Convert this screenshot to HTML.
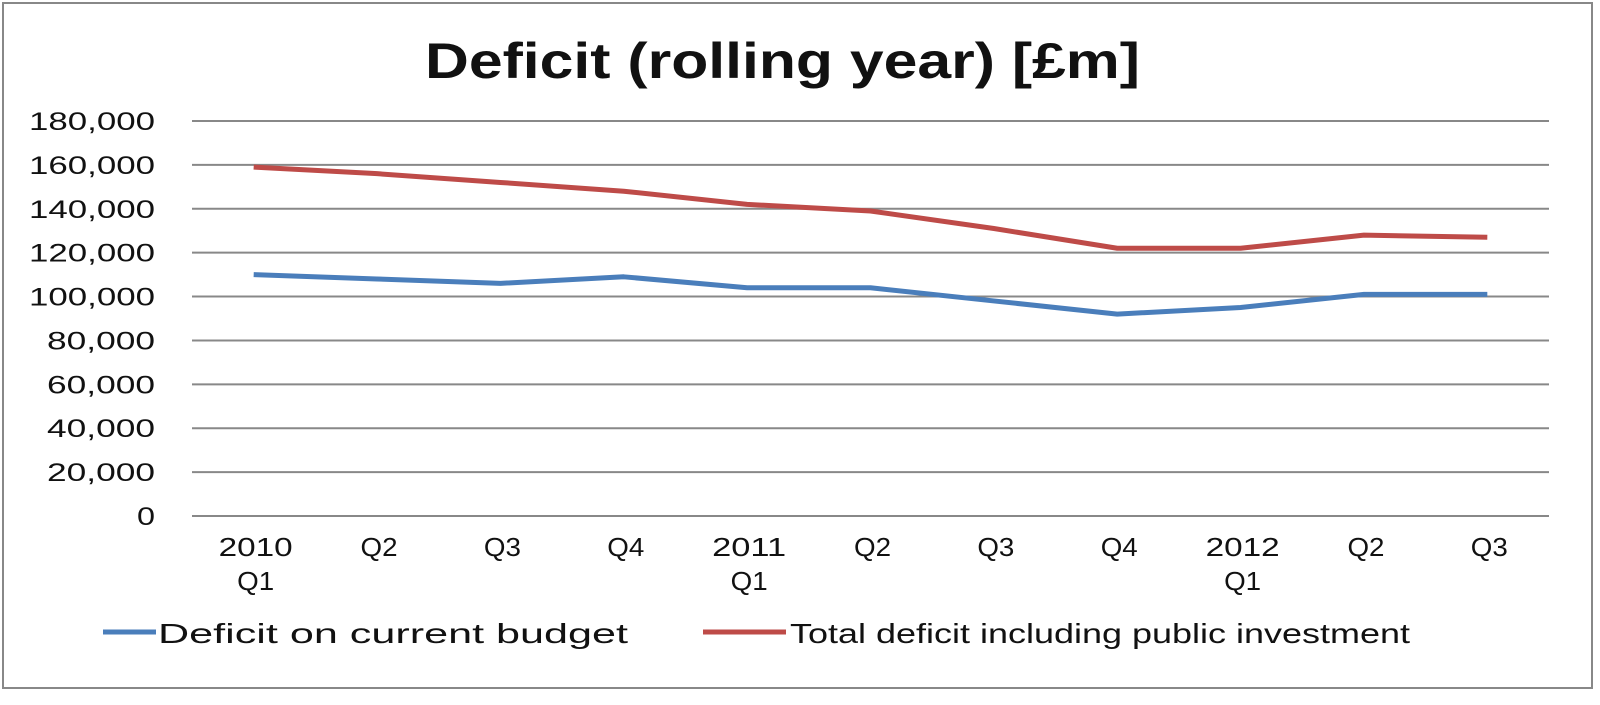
<!DOCTYPE html>
<html><head><meta charset="utf-8"><style>
body{margin:0;background:#fff;}
svg text{font-family:"Liberation Sans",sans-serif;fill:#111;}
</style></head><body>
<svg width="1600" height="700" xmlns="http://www.w3.org/2000/svg">
<rect x="3" y="3" width="1589" height="685" fill="#fff" stroke="#888" stroke-width="2"/>
<text x="425" y="78" font-size="50" font-weight="bold" textLength="715" lengthAdjust="spacingAndGlyphs">Deficit (rolling year) [£m]</text>
<g id="grid"></g><g id="ylab"></g><g id="xlab"></g><g id="series"></g>
<g>
<line x1="103" y1="632" x2="156" y2="632" stroke="#4a7ebb" stroke-width="5"/>
<text x="158" y="643" font-size="28" textLength="470" lengthAdjust="spacingAndGlyphs">Deficit on current budget</text>
<line x1="703" y1="632" x2="786" y2="632" stroke="#be4b48" stroke-width="5"/>
<text x="790" y="643" font-size="28" textLength="620" lengthAdjust="spacingAndGlyphs">Total deficit including public investment</text>
</g>
</svg>
<script>
const categories=[["2010","Q1"],["Q2"],["Q3"],["Q4"],["2011","Q1"],["Q2"],["Q3"],["Q4"],["2012","Q1"],["Q2"],["Q3"]];
const currentBudget=[110000,108000,106000,109000,104000,104000,98000,92000,95000,101000,101000];
const totalDeficit=[159000,156000,152000,148000,142000,139000,131000,122000,122000,128000,127000];
const yTicks=[0,20000,40000,60000,80000,100000,120000,140000,160000,180000];
const NS="http://www.w3.org/2000/svg";
const L=192,R=1549,T=121,B=516,ymax=180000;
const bw=(R-L)/categories.length;
function x(i){return L+bw*(i+0.5);}
function y(v){return B-(v/ymax)*(B-T);}
function mk(t,a,p){const e=document.createElementNS(NS,t);for(const k in a)e.setAttribute(k,a[k]);p.appendChild(e);return e;}
const g=document.getElementById('grid'),yl=document.getElementById('ylab'),xl=document.getElementById('xlab'),s=document.getElementById('series');
yTicks.forEach(v=>{
 const ln=mk('line',{x1:L,x2:R,y1:y(v),y2:y(v),stroke:'#888','stroke-width':2},g);
 
 
 const str=v.toLocaleString('en-US');
 const w=str.length*18;
 const t=mk('text',{x:155-w,y:y(v)+9,'font-size':25,textLength:w,lengthAdjust:'spacingAndGlyphs'},yl);
 t.textContent=str;
 
 
});
categories.forEach((c,i)=>{
 c.forEach((line,j)=>{
  const w=line.length*18.5;
  const t=mk('text',{x:x(i)+2-w/2,y:556+j*34,'font-size':26,textLength:w,lengthAdjust:'spacingAndGlyphs'},xl);
  t.textContent=line;
  
  
 });
});
function draw(arr,col,name){
 const p=mk('polyline',{points:arr.map((v,i)=>x(i)+','+y(v)).join(' '),fill:'none',stroke:col,'stroke-width':5,'stroke-linejoin':'round'},s);
 
 
}
draw(totalDeficit,'#be4b48','total-deficit-line');
draw(currentBudget,'#4a7ebb','current-budget-line');
</script>
</body></html>
